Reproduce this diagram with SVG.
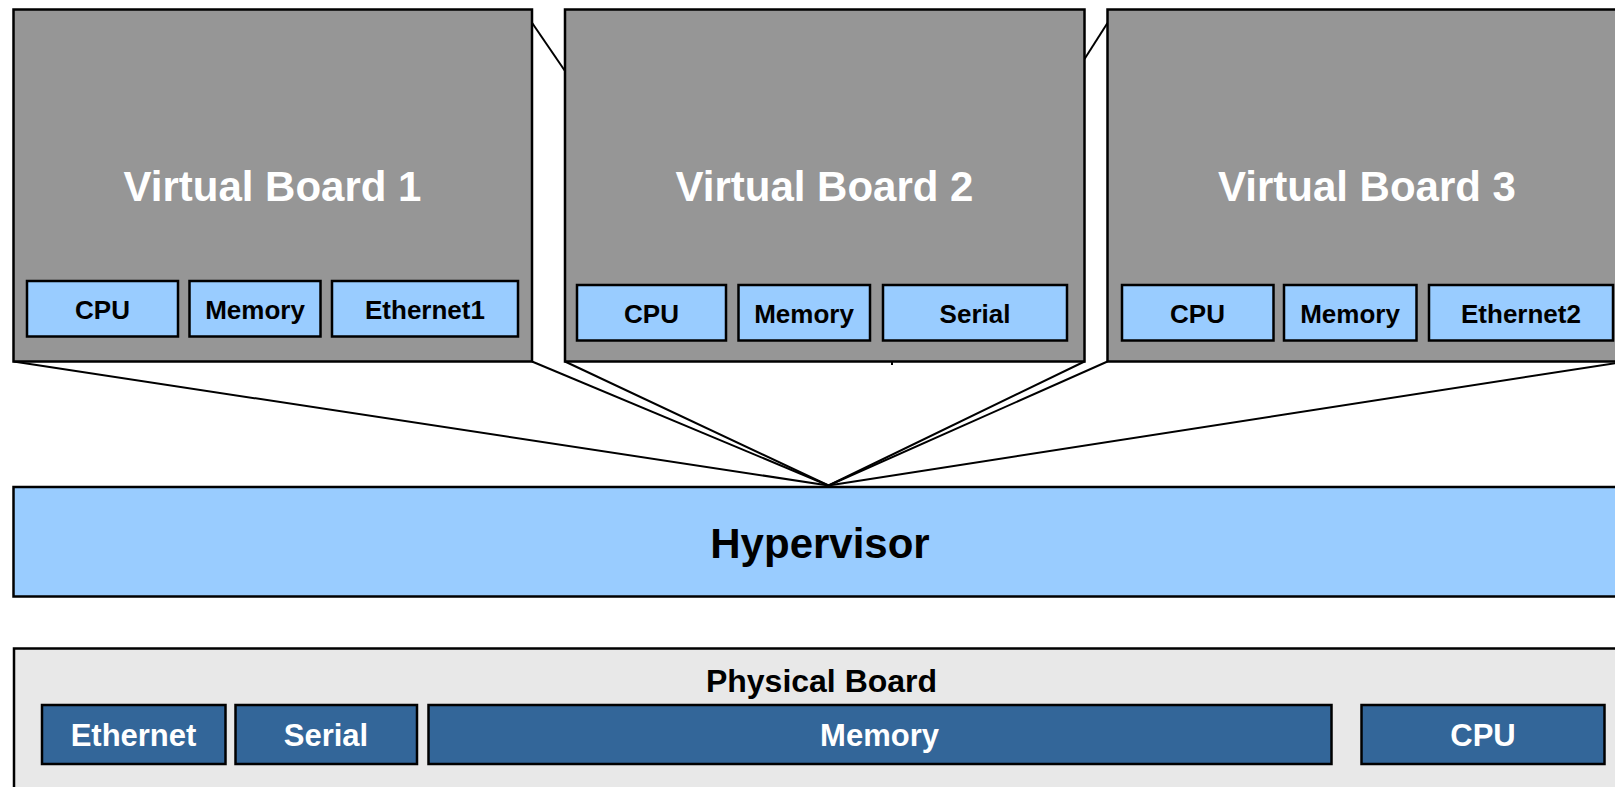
<svg xmlns="http://www.w3.org/2000/svg" width="1615" height="787" viewBox="0 0 1615 787">
<style>
.vb{fill:#969696;stroke:#000;stroke-width:2.5}
.sub{fill:#99CCFF;stroke:#000;stroke-width:2.5}
.hv{fill:#99CCFF;stroke:#000;stroke-width:2.5}
.pb{fill:#E8E8E8;stroke:#000;stroke-width:2.5}
.pbox{fill:#336699;stroke:#000;stroke-width:2.5}
.t{font-family:"Liberation Sans",Arial,sans-serif;font-weight:bold;text-anchor:middle}
.title{font-size:42px;fill:#fff}
.sl{font-size:26px;fill:#000}
.pl{font-size:31px;fill:#fff}
.conn line{stroke:#000;stroke-width:2;fill:none}
</style>
<rect width="1615" height="787" fill="#fff"/>
<g id="connectors" class="conn">
<line x1="531.5" y1="22" x2="565" y2="71"/>
<line x1="1084.5" y1="59" x2="1107.5" y2="23"/>
<line x1="13.5" y1="361.5" x2="828.5" y2="485.5"/>
<line x1="532" y1="361.5" x2="828.5" y2="485.5"/>
<line x1="565" y1="361.5" x2="828.5" y2="485.5"/>
<line x1="1084.5" y1="361.5" x2="828.5" y2="485.5"/>
<line x1="1107.5" y1="361.5" x2="828.5" y2="485.5"/>
<line x1="1626" y1="361.5" x2="828.5" y2="485.5"/>
<line x1="892" y1="361.5" x2="892" y2="365"/>
</g>
<g id="vb1">
<rect class="vb" x="13.5" y="9.5" width="518.5" height="352"/>
<text class="t title" x="272.5" y="201">Virtual Board 1</text>
<rect class="sub" x="27" y="281" width="151" height="55.5"/>
<text class="t sl" x="102.5" y="318.5">CPU</text>
<rect class="sub" x="189.5" y="281" width="131" height="55.5"/>
<text class="t sl" x="255" y="318.5">Memory</text>
<rect class="sub" x="332" y="281" width="186" height="55.5"/>
<text class="t sl" x="425" y="318.5">Ethernet1</text>
</g>
<g id="vb2">
<rect class="vb" x="565" y="9.5" width="519.5" height="352"/>
<text class="t title" x="824.5" y="201">Virtual Board 2</text>
<rect class="sub" x="577" y="285" width="149" height="55.5"/>
<text class="t sl" x="651.5" y="322.5">CPU</text>
<rect class="sub" x="738.5" y="285" width="131.5" height="55.5"/>
<text class="t sl" x="804" y="322.5">Memory</text>
<rect class="sub" x="883" y="285" width="184" height="55.5"/>
<text class="t sl" x="975" y="322.5">Serial</text>
</g>
<g id="vb3">
<rect class="vb" x="1107.5" y="9.5" width="518.5" height="352"/>
<text class="t title" x="1367" y="201">Virtual Board 3</text>
<rect class="sub" x="1122" y="285" width="151.5" height="55.5"/>
<text class="t sl" x="1197.5" y="322.5">CPU</text>
<rect class="sub" x="1284" y="285" width="132.5" height="55.5"/>
<text class="t sl" x="1350" y="322.5">Memory</text>
<rect class="sub" x="1429" y="285" width="184" height="55.5"/>
<text class="t sl" x="1521" y="322.5">Ethernet2</text>
</g>
<g id="hypervisor">
<rect class="hv" x="13.5" y="487" width="1614" height="109.5"/>
<text class="t" x="820" y="558" style="font-size:42px;fill:#000">Hypervisor</text>
</g>
<g id="physical-board">
<rect class="pb" x="14" y="648.5" width="1614" height="150"/>
<text class="t" x="821.5" y="691.5" style="font-size:32px;fill:#000">Physical Board</text>
<rect class="pbox" x="42" y="705" width="183.5" height="59"/>
<text class="t pl" x="133.5" y="746">Ethernet</text>
<rect class="pbox" x="235.5" y="705" width="181.5" height="59"/>
<text class="t pl" x="326" y="746">Serial</text>
<rect class="pbox" x="428.5" y="705" width="903" height="59"/>
<text class="t pl" x="879.5" y="746">Memory</text>
<rect class="pbox" x="1361.5" y="705" width="243" height="59"/>
<text class="t pl" x="1483" y="746">CPU</text>
</g>
</svg>
